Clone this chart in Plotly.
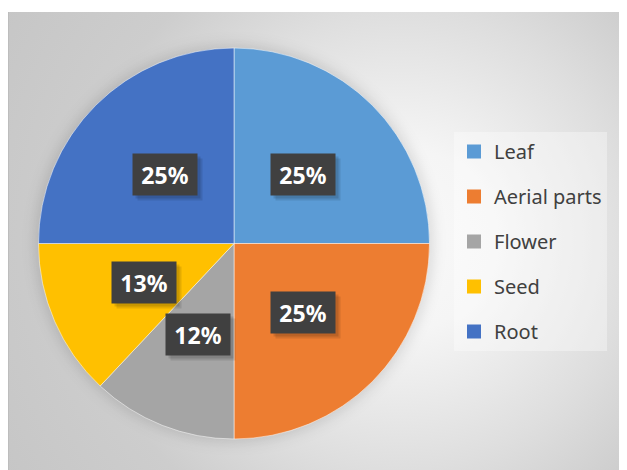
import math, base64
import plotly.graph_objects as go

# ---- data ----
categories = ["Leaf", "Aerial parts", "Flower", "Seed", "Root"]
values = [25, 25, 12, 13, 25]
colors = ["#5B9BD5", "#ED7D31", "#A5A5A5", "#FFC000", "#4472C4"]

# ---- layout constants (figure px) ----
W, H = 627, 470
CX, CY, R = 226, 235.5, 195.5   # pie centre / radius
BG_TOP = 4                      # background starts this many px below top

dom_x = [(CX - R) / W, (CX + R) / W]
dom_y = [(H - CY - R) / H, (H - CY + R) / H]

fig = go.Figure()

fig.add_trace(go.Pie(
    labels=categories, values=values, sort=False, direction="clockwise",
    rotation=0, marker=dict(colors=colors, line=dict(color="rgba(255,255,255,0.5)", width=1)),
    textinfo="none", hoverinfo="label+percent", showlegend=False,
    domain=dict(x=dom_x, y=dom_y),
))

# legend entries (one per category)
for name, col in zip(categories, colors):
    fig.add_trace(go.Scatter(
        x=[None], y=[None], mode="markers", name=name, legendgroup=name,
        marker=dict(symbol="square", size=14, color=col),
    ))

# data labels: boxes at half radius along each slice's mid-angle
total = sum(values)
cum = 0
annotations = []
for v in values:
    theta = 2 * math.pi * (cum + v / 2) / total
    cum += v
    px = CX + 0.5 * R * math.sin(theta)
    py = CY - 0.5 * R * math.cos(theta)
    pct = f"{round(100 * v / total)}%"
    common = dict(x=px / W, y=1 - py / H, xref="paper", yref="paper",
                  xanchor="center", yanchor="middle", showarrow=False,
                  width=64, height=41, borderpad=0)
    annotations.append(dict(common, text="", bgcolor="rgba(0,0,0,0.10)", xshift=5, yshift=-5))
    annotations.append(dict(common, text="", bgcolor="rgba(0,0,0,0.12)", xshift=3, yshift=-3))
    annotations.append(dict(common, text=pct, bgcolor="#404040",
                            font=dict(family="Noto Sans", size=23, color="white", weight="bold")))

# radial gradient background with soft pie shadow
bw, bh = W, H - BG_TOP
gx, gy = 392, 228
scx, scy = CX, CY - BG_TOP
svg = (
    f'<svg xmlns="http://www.w3.org/2000/svg" width="{bw}" height="{bh}" viewBox="0 0 {bw} {bh}" preserveAspectRatio="none">'
    '<defs>'
    f'<radialGradient id="g" gradientUnits="userSpaceOnUse" cx="{gx}" cy="{gy}" r="460">'
    '<stop offset="0" stop-color="#f9f9f9"/>'
    '<stop offset="0.2" stop-color="#f5f5f5"/>'
    '<stop offset="0.5" stop-color="#dedede"/>'
    '<stop offset="0.7" stop-color="#cdcdcd"/>'
    '<stop offset="1" stop-color="#c6c6c6"/>'
    '</radialGradient>'
    '<filter id="b" x="-20%" y="-20%" width="140%" height="140%"><feGaussianBlur stdDeviation="7"/></filter>'
    '</defs>'
    f'<rect width="{bw}" height="{bh}" fill="url(#g)"/>'
    f'<circle cx="{scx}" cy="{scy}" r="{R + 3}" fill="rgba(0,0,0,0.13)" filter="url(#b)"/>'
    f'<line x1="0.5" y1="0" x2="0.5" y2="{bh}" stroke="#bdbdbd" stroke-width="1"/>'
    '</svg>'
)
src = "data:image/svg+xml;base64," + base64.b64encode(svg.encode()).decode()

fig.update_layout(
    width=W, height=H, margin=dict(l=0, r=0, t=0, b=0),
    paper_bgcolor="white", plot_bgcolor="rgba(0,0,0,0)",
    xaxis=dict(visible=False), yaxis=dict(visible=False),
    images=[dict(source=src, xref="paper", yref="paper", x=0, y=1 - BG_TOP / H,
                 sizex=1, sizey=1 - BG_TOP / H, xanchor="left", yanchor="top",
                 sizing="stretch", layer="below")],
    legend=dict(x=446 / W, y=1 - 124 / H, xanchor="left", yanchor="top",
                bgcolor="rgba(255,255,255,0.35)", tracegroupgap=16,
                font=dict(family="Noto Sans", size=20, color="#404040"),
                itemwidth=30),
    annotations=annotations,
    showlegend=True,
)

fig.write_html("out.html")
